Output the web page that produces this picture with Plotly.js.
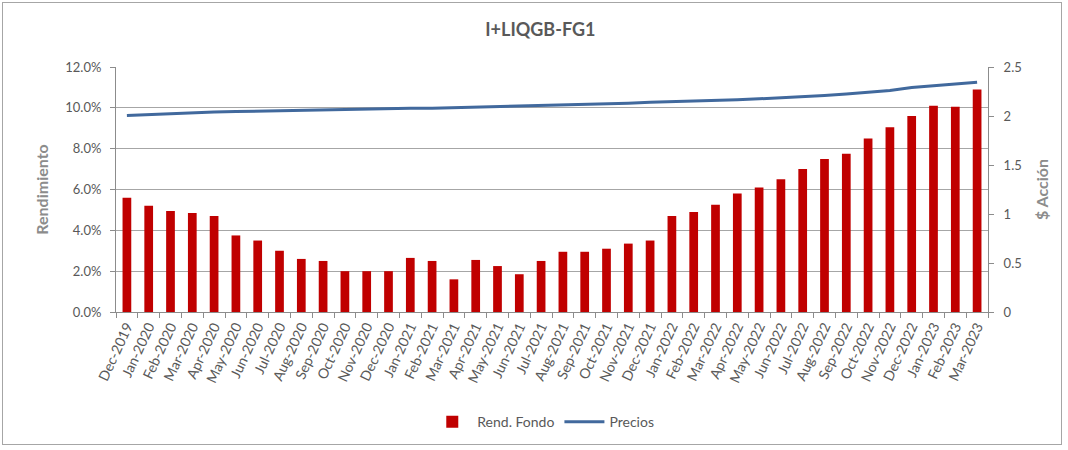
<!DOCTYPE html>
<html>
<head>
<meta charset="utf-8">
<script src="https://cdn.plot.ly/plotly-3.0.1.min.js"></script>
<style>
  html, body { margin: 0; padding: 0; background: #ffffff; }
  #frame { position: absolute; left: 2px; top: 2px; width: 1060px; height: 443px; border: 1px solid #a6a6a6; box-sizing: border-box; }
  #chart { position: absolute; left: 0; top: 0; width: 1068px; height: 450px; }
</style>
</head>
<body>
<div id="frame"></div>
<div id="chart"></div>
<script>
const months = [
  "Dec-2019","Jan-2020","Feb-2020","Mar-2020","Apr-2020","May-2020","Jun-2020","Jul-2020",
  "Aug-2020","Sep-2020","Oct-2020","Nov-2020","Dec-2020","Jan-2021","Feb-2021","Mar-2021",
  "Apr-2021","May-2021","Jun-2021","Jul-2021","Aug-2021","Sep-2021","Oct-2021","Nov-2021",
  "Dec-2021","Jan-2022","Feb-2022","Mar-2022","Apr-2022","May-2022","Jun-2022","Jul-2022",
  "Aug-2022","Sep-2022","Oct-2022","Nov-2022","Dec-2022","Jan-2023","Feb-2023","Mar-2023"
];
// Rend. Fondo (%)
const rendFondo = [
  5.6, 5.2, 4.95, 4.85, 4.7, 3.75, 3.5, 3.0,
  2.6, 2.5, 2.0, 2.0, 2.0, 2.65, 2.5, 1.6,
  2.55, 2.25, 1.85, 2.5, 2.95, 2.95, 3.1, 3.35,
  3.5, 4.7, 4.9, 5.25, 5.8, 6.1, 6.5, 7.0,
  7.5, 7.75, 8.5, 9.05, 9.6, 10.1, 10.05, 10.9
];
// Precios ($ Acción)
const precios = [
  2.005, 2.015, 2.025, 2.03, 2.04, 2.045, 2.05, 2.055,
  2.06, 2.065, 2.065, 2.07, 2.075, 2.08, 2.08, 2.085,
  2.09, 2.095, 2.10, 2.105, 2.11, 2.12, 2.125, 2.13,
  2.14, 2.145, 2.15, 2.155, 2.165, 2.175, 2.185, 2.195,
  2.21, 2.225, 2.24, 2.26, 2.29, 2.31, 2.33, 2.345
];

const txt = '#595959';
const axisCol = '#8c8c8c';
const fontFam = 'Lato, "Open Sans", sans-serif';

const traces = [
  {
    type: 'bar', name: 'Rend. Fondo', x: months, y: rendFondo,
    marker: { color: '#c00000' }, yaxis: 'y'
  },
  {
    type: 'scatter', mode: 'lines', name: 'Precios', x: months, y: precios,
    line: { color: '#41699d', width: 3 }, yaxis: 'y2'
  }
];

const layout = {
  width: 1068, height: 450,
  paper_bgcolor: 'rgba(0,0,0,0)', plot_bgcolor: 'rgba(0,0,0,0)',
  margin: { l: 116, r: 80, t: 67, b: 136 },
  font: { family: fontFam, color: txt, size: 13 },
  title: {
    text: '<b>I+LIQGB-FG1</b>', xref: 'container', yref: 'container',
    x: 0.506, xanchor: 'center', y: 0.933, yanchor: 'middle',
    font: { family: fontFam, size: 18, color: txt }
  },
  bargap: 0.6,
  showlegend: true,
  legend: {
    orientation: 'h', x: 0.49, xanchor: 'center', y: -0.45, yanchor: 'middle',
    font: { size: 14, color: txt }, traceorder: 'normal', itemwidth: 40
  },
  xaxis: {
    type: 'category', range: [-0.5, 39.5], tickson: 'boundaries',
    ticks: 'outside', ticklen: 5, tickcolor: axisCol,
    showline: true, linecolor: axisCol, linewidth: 1,
    tickangle: -65, tickfont: { size: 14, color: txt },
    showgrid: false, fixedrange: true
  },
  yaxis: {
    range: [0, 12], dtick: 2, tickformat: '.1f', ticksuffix: '%',
    showgrid: true, gridcolor: '#a6a6a6', gridwidth: 1,
    showline: true, linecolor: axisCol, ticks: 'outside', ticklen: 5, tickcolor: axisCol,
    ticklabelstandoff: 6,
    zeroline: false, tickfont: { size: 13, color: txt },
    title: { text: '<b>Rendimiento</b>', font: { size: 16, color: '#8c8c8c' }, standoff: 12 }
  },
  yaxis2: {
    overlaying: 'y', side: 'right', range: [0, 2.5], dtick: 0.5,
    showgrid: false, zeroline: false,
    showline: true, linecolor: axisCol, ticks: 'outside', ticklen: 5, tickcolor: axisCol,
    ticklabelstandoff: 7,
    tickfont: { size: 13, color: txt },
    title: { text: '<b>$ Acción</b>', font: { size: 16, color: '#8c8c8c' }, standoff: 16 }
  }
};

Plotly.newPlot('chart', traces, layout, { displayModeBar: false, staticPlot: true });
</script>
</body>
</html>
